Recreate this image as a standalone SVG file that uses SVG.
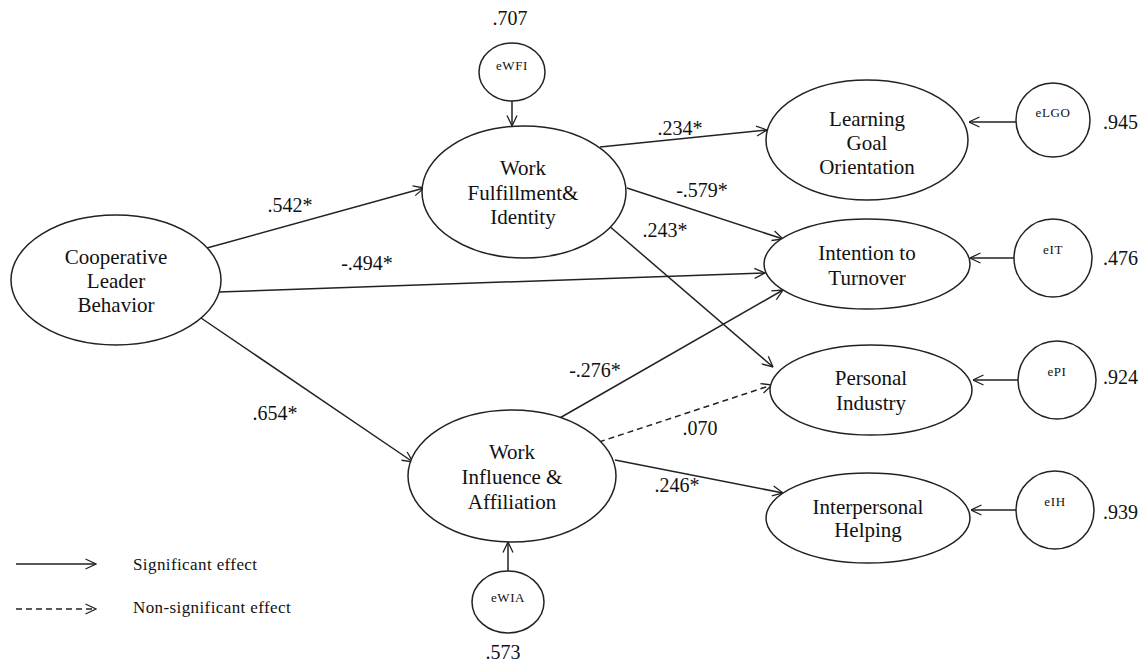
<svg xmlns="http://www.w3.org/2000/svg" width="1145" height="665" viewBox="0 0 1145 665">
  <defs>
    <marker id="arr" viewBox="0 0 12 12" refX="11.5" refY="6" markerWidth="12" markerHeight="12" orient="auto" markerUnits="userSpaceOnUse">
      <path d="M1,1 L11.5,6 L1,11" fill="none" stroke="#222" stroke-width="1.3"/>
    </marker>
  </defs>
  <style>
    .shape { fill: #fff; stroke: #222; stroke-width: 1.5; }
    .lbl { font-family: "Liberation Serif", "DejaVu Serif", serif; font-size: 21px; fill: #111; text-anchor: middle; }
    .err { font-family: "Liberation Serif", "DejaVu Serif", serif; font-size: 13px; fill: #111; text-anchor: middle; letter-spacing: 0.6px; }
    .num { font-family: "Liberation Serif", "DejaVu Serif", serif; font-size: 20px; fill: #111; }
    .leg { font-family: "Liberation Serif", "DejaVu Serif", serif; font-size: 17px; fill: #111; letter-spacing: 0.4px; }
    .edge { stroke: #222; stroke-width: 1.5; fill: none; marker-end: url(#arr); }
    .dash { stroke-dasharray: 6 4; }
  </style>

  <rect width="1145" height="665" fill="#fff"/>

  <!-- connectors -->
  <g id="connectors">
    <line class="edge" x1="207" y1="248" x2="424" y2="188"/>
    <line class="edge" x1="219" y1="292" x2="765" y2="273"/>
    <line class="edge" x1="201" y1="318" x2="413" y2="462"/>
    <line class="edge" x1="600" y1="147" x2="767" y2="130"/>
    <line class="edge" x1="627" y1="188" x2="783" y2="239"/>
    <line class="edge" x1="608" y1="225" x2="773" y2="367"/>
    <line class="edge" x1="558" y1="419" x2="783" y2="290"/>
    <line class="edge dash" x1="599" y1="442" x2="772" y2="385"/>
    <line class="edge" x1="615" y1="460" x2="783" y2="493"/>
    <!-- residual paths -->
    <line class="edge" x1="512" y1="101" x2="512" y2="126"/>
    <line class="edge" x1="508" y1="571" x2="508" y2="542"/>
    <line class="edge" x1="1016" y1="122" x2="969" y2="122"/>
    <line class="edge" x1="1014" y1="258" x2="970" y2="258"/>
    <line class="edge" x1="1018" y1="380" x2="973" y2="380"/>
    <line class="edge" x1="1016" y1="510" x2="971" y2="510"/>
    <!-- path coefficients -->
    <text class="num" x="290" y="212" text-anchor="middle">.542*</text>
    <text class="num" x="367" y="270" text-anchor="middle">-.494*</text>
    <text class="num" x="275" y="420" text-anchor="middle">.654*</text>
    <text class="num" x="680" y="135" text-anchor="middle">.234*</text>
    <text class="num" x="702" y="197" text-anchor="middle">-.579*</text>
    <text class="num" x="665" y="237" text-anchor="middle">.243*</text>
    <text class="num" x="595" y="377" text-anchor="middle">-.276*</text>
    <text class="num" x="700" y="435" text-anchor="middle">.070</text>
    <text class="num" x="677" y="492" text-anchor="middle">.246*</text>
  </g>

  <g id="clb">
    <ellipse class="shape" cx="116" cy="280" rx="105" ry="65"/>
    <text class="lbl" x="116" y="264">Cooperative</text>
    <text class="lbl" x="116" y="288">Leader</text>
    <text class="lbl" x="116" y="312">Behavior</text>
  </g>

  <g id="wfi">
    <ellipse class="shape" cx="524" cy="192" rx="102" ry="66"/>
    <text class="lbl" x="523" y="175">Work</text>
    <text class="lbl" x="523" y="200">Fulfillment&amp;</text>
    <text class="lbl" x="523" y="224">Identity</text>
  </g>

  <g id="ewfi">
    <ellipse class="shape" cx="512" cy="72" rx="33" ry="29"/>
    <text class="err" x="512" y="70">eWFI</text>
    <text class="num" x="510" y="25" text-anchor="middle">.707</text>
  </g>

  <g id="wia">
    <ellipse class="shape" cx="512" cy="476" rx="104" ry="66"/>
    <text class="lbl" x="512" y="459">Work</text>
    <text class="lbl" x="512" y="484">Influence &amp;</text>
    <text class="lbl" x="512" y="509">Affiliation</text>
  </g>

  <g id="ewia">
    <ellipse class="shape" cx="508" cy="602" rx="36" ry="31"/>
    <text class="err" x="508" y="602">eWIA</text>
    <text class="num" x="503" y="659" text-anchor="middle">.573</text>
  </g>

  <g id="lgo">
    <ellipse class="shape" cx="867" cy="140" rx="101" ry="60"/>
    <text class="lbl" x="867" y="126">Learning</text>
    <text class="lbl" x="867" y="150">Goal</text>
    <text class="lbl" x="867" y="174">Orientation</text>
  </g>

  <g id="elgo">
    <ellipse class="shape" cx="1053" cy="120" rx="37" ry="37"/>
    <text class="err" x="1053" y="117">eLGO</text>
    <text class="num" x="1103" y="129">.945</text>
  </g>

  <g id="it">
    <ellipse class="shape" cx="867" cy="264" rx="103" ry="45"/>
    <text class="lbl" x="867" y="260">Intention to</text>
    <text class="lbl" x="867" y="285">Turnover</text>
  </g>

  <g id="eit">
    <ellipse class="shape" cx="1053" cy="258" rx="39" ry="39"/>
    <text class="err" x="1053" y="254">eIT</text>
    <text class="num" x="1103" y="265">.476</text>
  </g>

  <g id="pi">
    <ellipse class="shape" cx="871" cy="390" rx="101" ry="45"/>
    <text class="lbl" x="871" y="385">Personal</text>
    <text class="lbl" x="871" y="410">Industry</text>
  </g>

  <g id="epi">
    <ellipse class="shape" cx="1057" cy="380" rx="39" ry="39"/>
    <text class="err" x="1057" y="376">ePI</text>
    <text class="num" x="1103" y="384">.924</text>
  </g>

  <g id="ih">
    <ellipse class="shape" cx="868" cy="518" rx="102" ry="45"/>
    <text class="lbl" x="868" y="514">Interpersonal</text>
    <text class="lbl" x="868" y="537">Helping</text>
  </g>

  <g id="eih">
    <ellipse class="shape" cx="1055" cy="510" rx="39" ry="39"/>
    <text class="err" x="1055" y="506">eIH</text>
    <text class="num" x="1103" y="519">.939</text>
  </g>

  <g id="legend">
    <line class="edge" x1="16" y1="564" x2="96" y2="564"/>
    <text class="leg" x="133" y="570">Significant effect</text>
    <line class="edge dash" x1="16" y1="609" x2="96" y2="609"/>
    <text class="leg" x="133" y="613">Non-significant effect</text>
  </g>
</svg>
